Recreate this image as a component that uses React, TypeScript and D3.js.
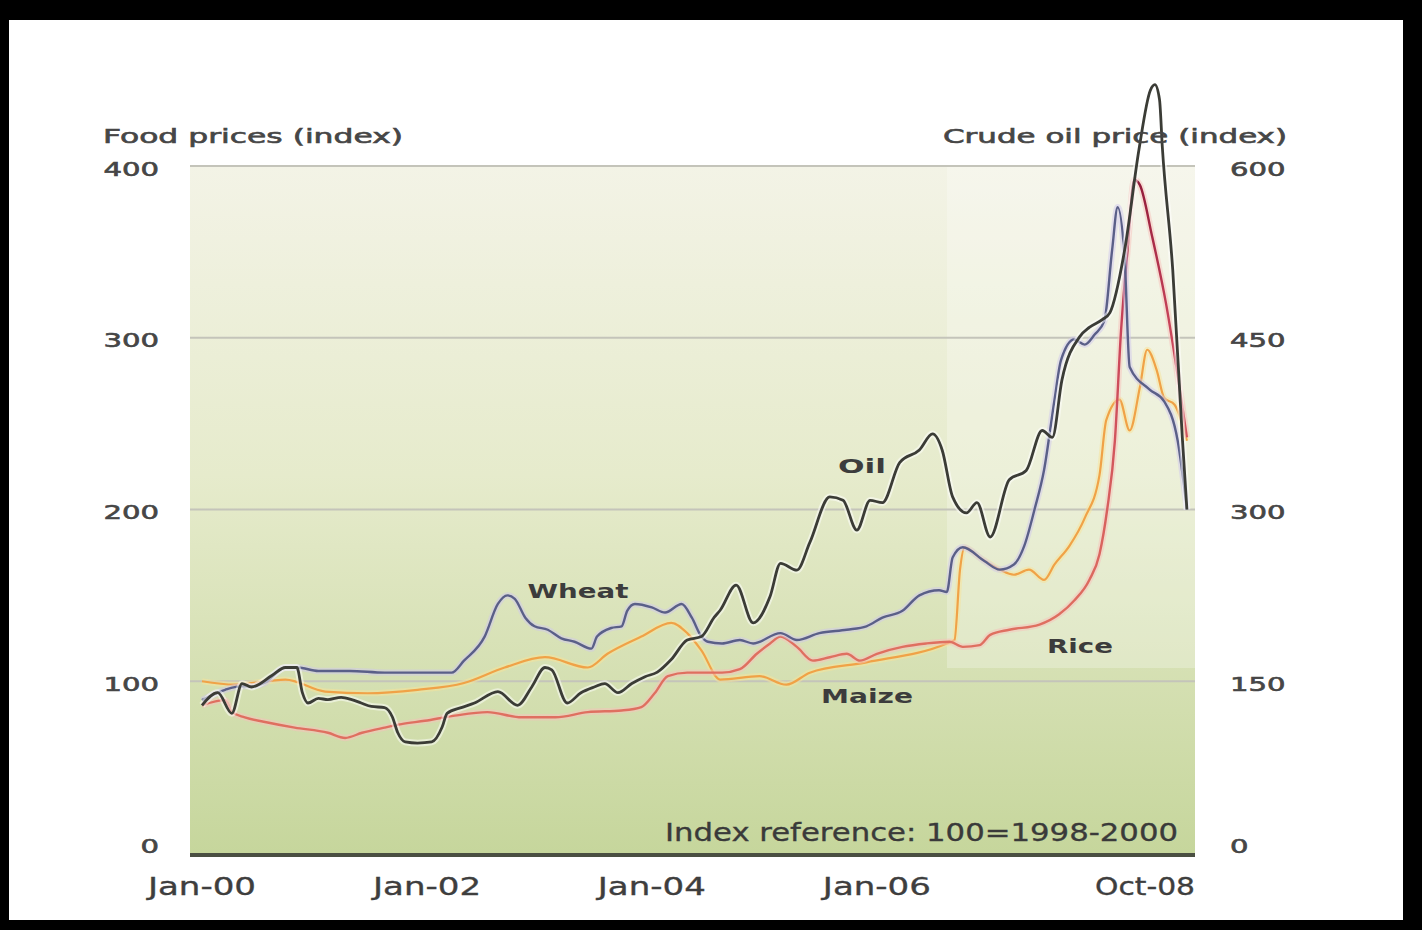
import React from "react";
import * as d3 from "d3";

// ---------- data ----------
const seriesNames = ["Wheat", "Rice", "Maize", "Oil"];
const leftTicks = [0, 100, 200, 300, 400];
const rightTicks = [0, 150, 300, 450, 600];
const xTickDates = ["2000-01-01", "2002-01-01", "2004-01-01", "2006-01-01", "2008-10-01"];
const xTickLabels = ["Jan-00", "Jan-02", "Jan-04", "Jan-06", "Oct-08"];

// Crude oil price index (right axis)
const oil: [string, number][] = [
  ["2000-01-01", 129], ["2000-02-21", 140], ["2000-04-07", 122], ["2000-05-10", 148],
  ["2000-06-10", 145], ["2000-08-15", 155], ["2000-09-28", 162], ["2000-11-04", 162],
  ["2000-11-22", 140], ["2000-12-10", 131], ["2001-01-13", 135], ["2001-02-13", 134],
  ["2001-03-28", 136], ["2001-05-01", 134], ["2001-06-01", 131], ["2001-07-04", 128],
  ["2001-08-16", 127], ["2001-09-10", 119], ["2001-09-28", 105], ["2001-10-22", 97],
  ["2001-12-01", 96], ["2002-01-16", 97], ["2002-02-19", 110], ["2002-03-07", 122],
  ["2002-04-22", 127], ["2002-06-04", 131], ["2002-08-19", 141], ["2002-10-22", 129],
  ["2002-12-07", 145], ["2003-01-19", 162], ["2003-02-10", 160], ["2003-04-01", 131],
  ["2003-05-16", 140], ["2003-06-28", 145], ["2003-08-01", 148], ["2003-09-13", 140],
  ["2003-10-28", 148], ["2003-12-10", 154], ["2004-01-19", 158], ["2004-03-04", 169],
  ["2004-04-25", 186], ["2004-06-10", 189], ["2004-07-22", 206], ["2004-08-10", 212],
  ["2004-10-01", 234], ["2004-11-25", 201], ["2005-01-19", 224], ["2005-02-22", 253],
  ["2005-04-16", 247], ["2005-05-28", 271], ["2005-08-01", 311], ["2005-09-13", 308],
  ["2005-10-28", 282], ["2005-12-10", 308], ["2006-01-19", 306], ["2006-03-16", 341],
  ["2006-05-19", 352], ["2006-07-01", 366], ["2006-08-01", 352], ["2006-09-04", 311],
  ["2006-10-19", 297], ["2006-11-22", 306], ["2007-01-04", 276], ["2007-03-07", 326],
  ["2007-05-01", 334], ["2007-06-22", 369], ["2007-07-25", 363], ["2007-08-25", 413],
  ["2007-10-22", 451], ["2007-11-22", 459], ["2008-01-04", 466], ["2008-01-28", 472],
  ["2008-03-16", 527], ["2008-05-01", 614], ["2008-06-07", 666], ["2008-06-22", 671],
  ["2008-07-07", 658], ["2008-07-16", 617], ["2008-08-19", 509], ["2008-09-19", 363],
  ["2008-10-04", 300],
];

// Wheat price index (left axis)
const wheat: [string, number][] = [
  ["2000-01-01", 89], ["2000-03-16", 95], ["2000-05-04", 97], ["2000-06-10", 97],
  ["2000-07-22", 99], ["2000-09-28", 108], ["2000-11-07", 108], ["2001-01-13", 106],
  ["2001-04-25", 106], ["2001-08-16", 105], ["2001-12-10", 105], ["2002-03-22", 105],
  ["2002-05-01", 112], ["2002-07-07", 126], ["2002-08-19", 145], ["2002-09-19", 150],
  ["2002-10-13", 148], ["2002-11-16", 137], ["2002-12-16", 132], ["2003-01-28", 130],
  ["2003-03-13", 125], ["2003-04-25", 123], ["2003-06-19", 119], ["2003-07-07", 126],
  ["2003-08-22", 131], ["2003-09-25", 132], ["2003-10-13", 141], ["2003-11-07", 145],
  ["2004-01-01", 143], ["2004-02-13", 140], ["2004-04-07", 145], ["2004-05-10", 137],
  ["2004-06-10", 126], ["2004-07-01", 123], ["2004-08-16", 122], ["2004-10-13", 124],
  ["2004-11-25", 122], ["2005-02-22", 128], ["2005-04-16", 124], ["2005-06-28", 128],
  ["2005-09-25", 130], ["2005-11-28", 132], ["2006-01-19", 137], ["2006-03-25", 141],
  ["2006-05-19", 150], ["2006-07-22", 153], ["2006-08-16", 152], ["2006-09-04", 172],
  ["2006-10-07", 178], ["2006-12-16", 170], ["2007-02-04", 165], ["2007-03-22", 168],
  ["2007-04-25", 179], ["2007-05-28", 200], ["2007-06-28", 223], ["2007-08-01", 264],
  ["2007-08-22", 287], ["2007-10-04", 299], ["2007-11-07", 296], ["2007-12-10", 302],
  ["2008-01-10", 310], ["2008-02-04", 351], ["2008-02-22", 376], ["2008-03-16", 345],
  ["2008-04-01", 283], ["2008-06-04", 270], ["2008-07-22", 263], ["2008-09-04", 240],
  ["2008-10-04", 200],
];

// Rice price index (left axis)
const rice: [string, number][] = [
  ["2000-01-01", 86], ["2000-03-16", 89], ["2000-04-07", 82], ["2000-05-19", 79],
  ["2000-08-01", 76], ["2000-10-28", 73], ["2001-02-13", 70], ["2001-04-10", 67],
  ["2001-06-04", 70], ["2001-08-16", 73], ["2001-10-10", 75], ["2001-12-25", 77],
  ["2002-04-01", 80], ["2002-07-16", 82], ["2002-11-04", 79], ["2003-02-22", 79],
  ["2003-06-07", 82], ["2003-09-25", 83], ["2003-11-28", 85], ["2004-01-10", 93],
  ["2004-02-22", 103], ["2004-04-25", 105], ["2004-08-16", 105], ["2004-10-13", 107],
  ["2004-12-07", 116], ["2005-01-19", 122], ["2005-02-22", 126], ["2005-04-16", 120],
  ["2005-06-07", 112], ["2005-08-01", 114], ["2005-09-25", 116], ["2005-11-07", 112],
  ["2006-01-01", 116], ["2006-03-25", 120], ["2006-06-10", 122], ["2006-08-25", 123],
  ["2006-10-07", 120], ["2006-12-01", 121], ["2007-01-04", 127], ["2007-03-07", 130],
  ["2007-06-13", 133], ["2007-08-16", 139], ["2007-10-04", 147], ["2007-11-22", 159],
  ["2007-12-25", 174], ["2008-01-19", 200], ["2008-02-13", 240], ["2008-03-04", 304],
  ["2008-03-25", 351], ["2008-04-16", 392], ["2008-05-04", 389], ["2008-06-13", 359],
  ["2008-07-28", 320], ["2008-09-10", 271], ["2008-10-04", 242],
];

// Maize price index (left axis)
const maize: [string, number][] = [
  ["2000-01-01", 100], ["2000-04-16", 98], ["2000-09-28", 101], ["2001-02-04", 94],
  ["2001-06-22", 93], ["2001-12-01", 95], ["2002-05-01", 99], ["2002-09-10", 108],
  ["2003-01-19", 114], ["2003-06-07", 108], ["2003-08-10", 116], ["2003-11-28", 126],
  ["2004-03-04", 134], ["2004-04-25", 128], ["2004-06-10", 118], ["2004-08-10", 101],
  ["2004-12-16", 103], ["2005-03-13", 98], ["2005-05-28", 105], ["2005-11-28", 111],
  ["2006-08-16", 122], ["2006-09-10", 124], ["2006-09-28", 165], ["2006-10-13", 178],
  ["2006-12-01", 172], ["2007-02-04", 165], ["2007-03-22", 162], ["2007-05-10", 165],
  ["2007-06-28", 159], ["2007-08-01", 168], ["2007-09-19", 179], ["2007-11-07", 195],
  ["2007-12-25", 220], ["2008-01-16", 252], ["2008-02-28", 264], ["2008-04-01", 246],
  ["2008-05-04", 271], ["2008-05-28", 293], ["2008-06-28", 281], ["2008-07-22", 265],
  ["2008-08-25", 261], ["2008-10-04", 240],
];

// ---------- chart ----------
const W = 1422;
const H = 930;

export default function App() {
  const parse = d3.timeParse("%Y-%m-%d");
  const left = 190, right = 1195, top = 166, bottom = 853;

  const x = d3
    .scaleTime()
    .domain([parse("2000-01-01")!, parse("2008-10-01")!])
    .range([202, 1186]);
  const yL = d3.scaleLinear().domain([0, 400]).range([bottom, top]);
  const yR = d3.scaleLinear().domain([0, 600]).range([bottom, top]);

  const lineL = d3
    .line<[string, number]>()
    .x((d) => x(parse(d[0])!))
    .y((d) => yL(d[1]))
    .curve(d3.curveMonotoneX);
  const lineR = d3
    .line<[string, number]>()
    .x((d) => x(parse(d[0])!))
    .y((d) => yR(d[1]))
    .curve(d3.curveMonotoneX);

  const series = [
    { name: seriesNames[2], d: lineL(maize)!, color: "#f0a247", glow: "#f8e39a", w: 2.2 },
    { name: seriesNames[1], d: lineL(rice)!, color: "url(#riceGrad)", glow: "#f7c2bb", w: 2.4 },
    { name: seriesNames[0], d: lineL(wheat)!, color: "#5a5f88", glow: "#cfc8ee", w: 2.4 },
    { name: seriesNames[3], d: lineR(oil)!, color: "#3b3c36", glow: "#ffffff", w: 2.8 },
  ];

  const labels = [
    { t: seriesNames[0], x: 578, y: 592, len: 101 },
    { t: seriesNames[3], x: 862, y: 467, len: 48 },
    { t: seriesNames[2], x: 867, y: 697, len: 92 },
    { t: seriesNames[1], x: 1080, y: 647, len: 66 },
  ];

  const narrow = "'Liberation Sans Narrow', 'DejaVu Sans Condensed', Arial, sans-serif";
  const wide = "'DejaVu Sans', Verdana, sans-serif";
  const ink = "#464646";

  return (
    <svg
      width={W}
      height={H}
      viewBox={`0 0 ${W} ${H}`}
      style={{ position: "absolute", left: 0, top: 0, display: "block" }}
    >
      <defs>
        <linearGradient id="bgGrad" x1="0" y1="0" x2="0" y2="1">
          <stop offset="0" stopColor="#f3f3e6" />
          <stop offset="0.45" stopColor="#e6ebcc" />
          <stop offset="1" stopColor="#c6d69c" />
        </linearGradient>
        <linearGradient id="riceGrad" gradientUnits="userSpaceOnUse" x1="0" y1="170" x2="0" y2="620">
          <stop offset="0" stopColor="#8e1838" />
          <stop offset="0.35" stopColor="#c9445a" />
          <stop offset="1" stopColor="#df6f60" />
        </linearGradient>
      </defs>

      <rect x={0} y={0} width={W} height={H} fill="#000" />
      <rect x={9} y={20} width={1394} height={900} fill="#ffffff" />

      {/* plot background */}
      <rect x={left} y={top} width={right - left} height={bottom - top} fill="url(#bgGrad)" />
      <rect x={947} y={top} width={right - 947} height={668 - top} fill="#ffffff" opacity={0.25} />

      {/* gridlines */}
      {leftTicks.filter((t) => t > 0).map((t) => (
        <line key={t} x1={left} x2={right} y1={yL(t)} y2={yL(t)} stroke="#c4c4ba" strokeWidth={2} />
      ))}

      {/* series */}
      {series.map((s) => (
        <g key={s.name}>
          <path d={s.d} fill="none" stroke={s.glow} strokeWidth={s.w + 4} opacity={0.5} strokeLinejoin="round" />
          <path d={s.d} fill="none" stroke={s.color} strokeWidth={s.w} strokeLinejoin="round" />
        </g>
      ))}

      {/* x axis baseline */}
      <line x1={left} x2={right} y1={bottom + 2} y2={bottom + 2} stroke="#4a4f42" strokeWidth={4} />

      {/* left ticks */}
      {leftTicks.map((t) => {
        const s = String(t);
        return (
          <text key={t} x={159} y={yL(t) + (t === 0 ? -6 : 4)} textAnchor="end" dominantBaseline="middle"
            fontFamily={wide} fontSize={19} fill={ink} stroke={ink} strokeWidth={0.6}
            textLength={s.length * 18.5} lengthAdjust="spacingAndGlyphs">
            {s}
          </text>
        );
      })}
      {/* right ticks */}
      {rightTicks.map((t) => {
        const s = String(t);
        return (
          <text key={t} x={1230} y={yR(t) + (t === 0 ? -6 : 4)} textAnchor="start" dominantBaseline="middle"
            fontFamily={wide} fontSize={19} fill={ink} stroke={ink} strokeWidth={0.6}
            textLength={s.length * 18.5} lengthAdjust="spacingAndGlyphs">
            {s}
          </text>
        );
      })}

      {/* x tick labels */}
      {xTickDates.map((d, i) => {
        const last = i === xTickDates.length - 1;
        return (
          <text key={d} x={last ? right : x(parse(d)!)} y={888} textAnchor={last ? "end" : "middle"}
            dominantBaseline="middle" fontFamily={narrow} fontSize={24} fill="#3e3e3e" stroke="#3e3e3e" strokeWidth={0.3}
            textLength={last ? 100 : 108} lengthAdjust="spacingAndGlyphs">
            {xTickLabels[i]}
          </text>
        );
      })}

      {/* axis titles */}
      <text x={103} y={137} dominantBaseline="middle" fontFamily={wide} fontSize={19} fill={ink} stroke={ink} strokeWidth={0.6}
        textLength={300} lengthAdjust="spacingAndGlyphs">
        Food prices (index)
      </text>
      <text x={1287} y={137} textAnchor="end" dominantBaseline="middle" fontFamily={wide} fontSize={19} fill={ink} stroke={ink} strokeWidth={0.6}
        textLength={344} lengthAdjust="spacingAndGlyphs">
        Crude oil price (index)
      </text>

      {/* note */}
      <text x={1178} y={834} textAnchor="end" dominantBaseline="middle" fontFamily={narrow} fontSize={25} fill="#3a3a3a"
        stroke="#3a3a3a" strokeWidth={0.3} textLength={513} lengthAdjust="spacingAndGlyphs">
        Index reference: 100=1998-2000
      </text>

      {/* series labels */}
      {labels.map((l) => (
        <text key={l.t} x={l.x} y={l.y} textAnchor="middle" dominantBaseline="middle" fontFamily={wide}
          fontSize={20} fontWeight="bold" fill="#3c3c3c" textLength={l.len} lengthAdjust="spacingAndGlyphs">
          {l.t}
        </text>
      ))}
    </svg>
  );
}
